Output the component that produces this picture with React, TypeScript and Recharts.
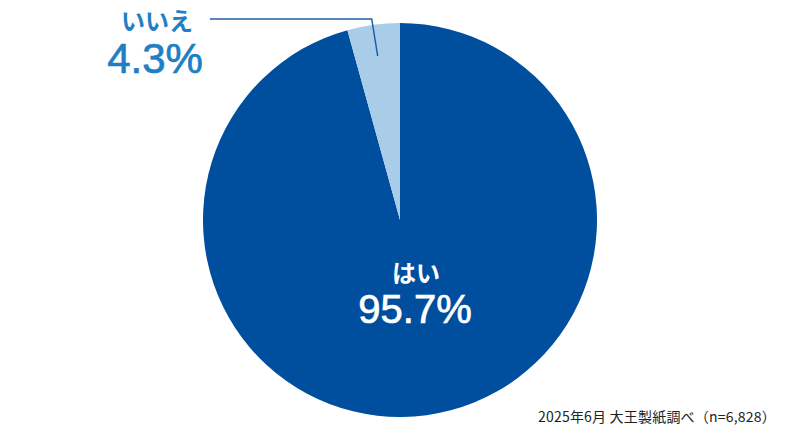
import { PieChart, Pie, Cell } from 'recharts'

const categories = ['はい', 'いいえ']
const shares = [95.7, 4.3]
const colors = ['#004f9f', '#a9cde8']
const sourceNote = '2025年6月 大王製紙調べ（n=6,828）'

const data = categories.map((name, i) => ({ name, value: shares[i] }))

const FONT = '"Noto Sans CJK JP", "Noto Sans", sans-serif'
const NUM_FONT = '"Liberation Sans", Arial, sans-serif'
const RAD = Math.PI / 180

function renderLabel(props: any) {
  const { cx, cy, midAngle, outerRadius, index, payload } = props
  if (index === 0) {
    return (
      <g>
        <text x={cx + 16} y={cy + 62} textAnchor="middle" fill="#fff" fontFamily={FONT} fontWeight={700} fontSize={24}>
          {payload.name}
        </text>
        <text x={cx + 15} y={cy + 103} textAnchor="middle" fill="#fff" stroke="#fff" strokeWidth={0.7} fontFamily={NUM_FONT} fontSize={40}>
          {payload.value}%
        </text>
      </g>
    )
  }
  // leader line from inside the small slice up over the pie and out to the left
  const rIn = outerRadius * 0.84
  const px = cx + rIn * Math.cos(-midAngle * RAD)
  const py = cy + rIn * Math.sin(-midAngle * RAD)
  const ey = cy - outerRadius - 4
  const ex = px - 6
  const endX = 210
  return (
    <g>
      <polyline points={`${px},${py} ${ex},${ey} ${endX},${ey}`} fill="none" stroke="#1f5fa6" strokeWidth={1.5} />
      <text x={endX - 53} y={ey + 11} textAnchor="middle" fill="#1e7fc4" fontFamily={FONT} fontWeight={700} fontSize={24}>
        {payload.name}
      </text>
      <text x={endX - 55} y={ey + 54} textAnchor="middle" fill="#1e7fc4" stroke="#1e7fc4" strokeWidth={0.7} fontFamily={NUM_FONT} fontSize={42}>
        {payload.value}%
      </text>
    </g>
  )
}

export default function App() {
  return (
    <div style={{ position: 'absolute', left: 0, top: 0, width: 801, height: 441, background: '#fff' }}>
      <PieChart width={801} height={441} margin={{ top: 0, right: 0, bottom: 0, left: 0 }}>
        <Pie
          data={data}
          dataKey="value"
          cx={400}
          cy={220}
          outerRadius={197}
          startAngle={90}
          endAngle={-270}
          stroke="none"
          label={renderLabel}
          labelLine={false}
          isAnimationActive={false}
        >
          {data.map((d, i) => (
            <Cell key={d.name} fill={colors[i]} />
          ))}
        </Pie>
      </PieChart>
      <div
        style={{
          position: 'absolute',
          left: 538,
          top: 406,
          fontFamily: FONT,
          fontSize: 14,
          letterSpacing: 0.2,
          color: '#222',
          whiteSpace: 'nowrap',
        }}
      >
        {sourceNote}
      </div>
    </div>
  )
}
